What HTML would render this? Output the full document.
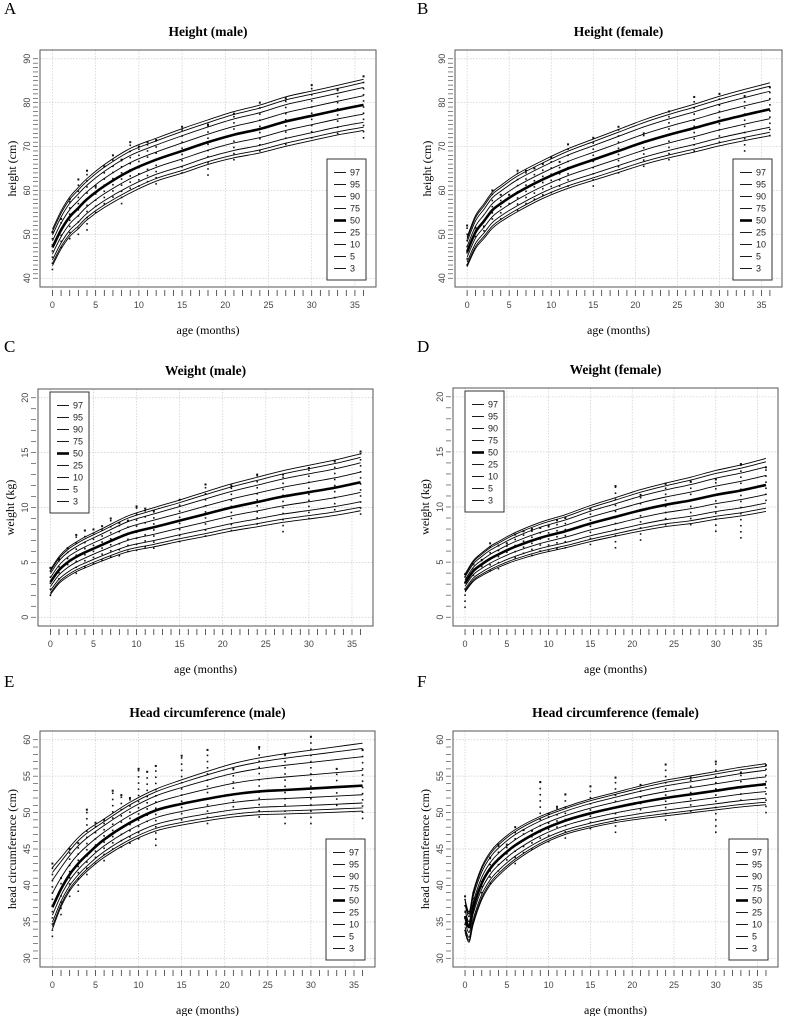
<!DOCTYPE html>
<html><head><meta charset="utf-8"><style>
html,body{margin:0;padding:0;background:#fff;}
svg{display:block;}
.tl{font-family:"Liberation Sans",sans-serif;font-size:9px;fill:#444;}
.ttl{font-family:"Liberation Serif",serif;font-size:13.5px;font-weight:bold;fill:#000;}
.lab{font-family:"Liberation Serif",serif;font-size:12px;fill:#000;}
.pl{font-family:"Liberation Serif",serif;font-size:17px;fill:#000;}
.lg{font-family:"Liberation Sans",sans-serif;font-size:9px;fill:#222;}
</style></head><body>
<svg id="fig" width="790" height="1016" viewBox="0 0 790 1016" xmlns="http://www.w3.org/2000/svg"></svg>
<script>
const zs=[1.881,1.645,1.282,0.674,0,-0.674,-1.282,-1.645,-1.881];
const pctLabels=['97','95','90','75','50','25','10','5','3'];
const xTicksLabels=[0,5,10,15,20,25,30,35];
const sAges=[0,1,2,3,4,5,6,7,8,9,10,11,12,15,18,21,24,27,30,33,36];
const cAges=[0,1,2,3,4,6,9,12,15,18,21,24,27,30,33,36];
const F_ages=[0,0.5,1,2,3,4,6,9,12,15,18,21,24,27,30,33,36];

const A_med=[47,51,54,56,58,61,64.5,67,69,71,72.7,74,75.7,77,78.3,79.5];
const A_sdUp=[2.2,2.3,2.4,2.5,2.5,2.6,2.7,2.6,2.7,2.7,2.8,2.9,3.0,3.0,3.0,3.1];
const A_sdDown=A_sdUp;
const A_low=[42,47,49,50,51,55,57,58.5,57,60.5,61,62,61.5,64,63.5,67,69,70.5,72,73,72];
const A_high=[50.5,53.5,58,62.5,64.5,61,65.5,68,67,71,70,71,71.5,74.5,75,77.5,80,81,84,83,86];

const B_med=[46,50.5,53,55.5,57,59.5,62.5,65,67,69,71,72.7,74.2,75.8,77.2,78.5];
const B_sdUp=[1.8,2.0,2.1,2.2,2.2,2.3,2.3,2.4,2.5,2.6,2.7,2.8,2.9,3.0,3.1,3.2];
const B_sdDown=B_sdUp;
const B_low=[43,49.5,50.8,53.5,53.5,57,55.5,57,58,59,59.5,61,61,61,64,65.5,67,69,71,69,72.5];
const B_high=[52,51.5,51.8,60,59,59,64.5,64.5,65,66,67.5,66.5,70.5,72,74.5,73,78,81.3,82,81.5,83.5];

const C_med=[3.2,4.3,5.0,5.5,5.9,6.6,7.6,8.2,8.8,9.4,10.0,10.5,11.0,11.4,11.8,12.3];
const C_sdUp=[0.6,0.65,0.7,0.72,0.75,0.78,0.87,0.95,1.0,1.08,1.14,1.2,1.25,1.3,1.34,1.38];
const C_sdDown=C_sdUp;
const C_low=[2,3.5,4.8,4,4.6,4.9,5.2,5.5,5.6,6,6.1,6.4,6.3,6.9,7.4,7.9,8.5,7.8,9,9.8,9.4];
const C_high=[4.5,5.3,6.3,7.5,7.9,8,8.3,9,8.6,8.8,10.1,9.9,9.7,10.7,12.1,12,13,13,13.6,14.2,15.1];

const D_med=[3.1,4.2,4.8,5.3,5.7,6.4,7.2,7.8,8.5,9.1,9.7,10.2,10.6,11.1,11.5,12.0];
const D_sdUp=[0.43,0.5,0.55,0.6,0.62,0.68,0.75,0.8,0.87,0.93,1.0,1.05,1.12,1.18,1.23,1.28];
const D_sdDown=D_sdUp;
const D_low=[0.9,3.8,4.6,4.2,4.4,5.9,5.4,5.8,5.6,6,6,6.2,6.3,6.6,6.3,7,8.4,8.4,7.8,7.2,10.6];
const D_high=[3.9,4.8,5.2,6.7,6.5,6.7,7.5,7.8,8,8.1,8.3,8.8,9,9.8,11.9,11.1,12.1,12.3,12.5,13.9,13.6];

const E_med=[37,39.5,41.5,43,44.2,46.3,48.6,50.3,51.2,51.9,52.5,52.9,53.1,53.3,53.5,53.7];
const E_sdUp=[2.9,2.3,2.0,1.9,1.8,1.5,1.5,1.55,1.75,2.0,2.25,2.45,2.65,2.8,2.95,3.1];
const E_sdDown=[1.6,1.3,1.2,1.2,1.2,1.3,1.4,1.5,1.55,1.6,1.65,1.7,1.75,1.8,1.83,1.86];
const E_low=[33,36,38.5,39.2,41.5,43,43.4,45,45.3,45.8,46.4,48.8,45.5,49,48.5,50.8,49.4,48.5,48.5,51,49.2];
const E_high=[43,41,45,45.8,50.4,48.6,49,53,52.4,52,56,55.6,56.4,57.8,58.6,56,59,58,60.4,56,58.6];

const F_med=[35.8,34.3,37,40.3,42.3,43.6,45.5,47.5,48.9,49.9,50.7,51.4,52,52.5,53,53.5,53.9];
const F_sdUp=[1.2,1.1,1.2,1.2,1.2,1.2,1.15,1.05,1.0,1.05,1.1,1.2,1.3,1.35,1.4,1.45,1.5];
const F_sdDown=F_sdUp;
const F_low=[33.8,36.5,39,40.3,42,43.5,43,44.5,45,46.5,46,48,46.5,47.8,47.3,50.4,49,50.2,47.3,51.7,50];
const F_high=[38.5,39,40.5,43.8,45.6,45.6,48,47.6,47.5,54.2,49.8,50.8,52.5,53.6,54.8,53.8,56.6,54.8,57,55.5,56.5];

const NS='http://www.w3.org/2000/svg';
const fig=document.getElementById('fig');
function mk(tag,attrs,parent){const e=document.createElementNS(NS,tag);for(const k in attrs)e.setAttribute(k,attrs[k]);(parent||fig).appendChild(e);return e;}
function txt(s,attrs,parent){const e=mk('text',attrs,parent);e.textContent=s;return e;}
function crPath(pts){let d='M'+pts[0][0].toFixed(2)+','+pts[0][1].toFixed(2);for(let i=0;i<pts.length-1;i++){const p0=pts[i-1]||pts[i],p1=pts[i],p2=pts[i+1],p3=pts[i+2]||p2;const c1=[p1[0]+(p2[0]-p0[0])/6,p1[1]+(p2[1]-p0[1])/6],c2=[p2[0]-(p3[0]-p1[0])/6,p2[1]-(p3[1]-p1[1])/6];d+='C'+c1.map(v=>v.toFixed(2))+' '+c2.map(v=>v.toFixed(2))+' '+p2[0].toFixed(2)+','+p2[1].toFixed(2);}return d;}

const panels=[
 {id:'a',letter:'A',lx:4,ly:14,box:[40,50,376,287],ylim:[40,90],ystep:10,ytick:1,title:'Height (male)',ylab:'height (cm)',ages:cAges,med:A_med,up:A_sdUp,dn:A_sdDown,low:A_low,high:A_high,dot:1.4,legend:'right'},
 {id:'b',letter:'B',lx:417,ly:14,box:[455,50,782,287],ylim:[40,90],ystep:10,ytick:1,title:'Height (female)',ylab:'height (cm)',ages:cAges,med:B_med,up:B_sdUp,dn:B_sdDown,low:B_low,high:B_high,dot:1.4,legend:'right'},
 {id:'c',letter:'C',lx:4,ly:352,box:[38,389,373,626],ylim:[0,20],ystep:5,ytick:1,title:'Weight (male)',ylab:'weight (kg)',ages:cAges,med:C_med,up:C_sdUp,dn:C_sdDown,low:C_low,high:C_high,dot:0.55,legend:'left'},
 {id:'d',letter:'D',lx:417,ly:352,box:[453,388,778,626],ylim:[0,20],ystep:5,ytick:1,title:'Weight (female)',ylab:'weight (kg)',ages:cAges,med:D_med,up:D_sdUp,dn:D_sdDown,low:D_low,high:D_high,dot:0.55,legend:'left'},
 {id:'e',letter:'E',lx:4,ly:687,box:[40,731,375,967],ylim:[30,60],ystep:5,ytick:1,title:'Head circumference (male)',ylab:'head circumference (cm)',ages:cAges,med:E_med,up:E_sdUp,dn:E_sdDown,low:E_low,high:E_high,dot:0.85,legend:'right'},
 {id:'f',letter:'F',lx:417,ly:687,box:[453,731,778,967],ylim:[30,60],ystep:5,ytick:1,title:'Head circumference (female)',ylab:'head circumference (cm)',ages:F_ages,med:F_med,up:F_sdUp,dn:F_sdDown,low:F_low,high:F_high,dot:0.85,legend:'right'}
];

panels.forEach(p=>{
 const [L,T,R,B]=p.box;
 const g=mk('g',{});
 
 
 const xd=[-1.44,37.44];
 const pad=(p.ylim[1]-p.ylim[0])*0.04;const yd=[p.ylim[0]-pad,p.ylim[1]+pad];
 const X=v=>L+(v-xd[0])/(xd[1]-xd[0])*(R-L);
 const Y=v=>B-(v-yd[0])/(yd[1]-yd[0])*(B-T);
 const pl=txt(p.letter,{x:p.lx,y:p.ly,class:'pl'},g);
 
 
 const t=txt(p.title,{x:(L+R)/2,y:T-14,class:'ttl','text-anchor':'middle'},g);
 
 
 const xl=txt('age (months)',{x:(L+R)/2,y:B+47,class:'lab','text-anchor':'middle'},g);
 
 
 const yl=txt(p.ylab,{x:0,y:0,class:'lab','text-anchor':'middle',transform:`translate(${L-24},${(T+B)/2}) rotate(-90)`},g);
 
 
 const grid=mk('g',{stroke:'#ccc','stroke-width':0.7,'stroke-dasharray':'1.5,1.5'},g);
 
 
 xTicksLabels.forEach(v=>mk('line',{x1:X(v),x2:X(v),y1:T,y2:B},grid));
 for(let v=p.ylim[0];v<=p.ylim[1]+1e-9;v+=p.ystep)mk('line',{x1:L,x2:R,y1:Y(v),y2:Y(v)},grid);
 const xa=mk('g',{stroke:'#333','stroke-width':0.8},g);
 
 
 for(let m=0;m<=36;m++)mk('line',{x1:X(m),x2:X(m),y1:B+3,y2:B+9},xa);
 xTicksLabels.forEach(v=>{const e=txt(String(v),{x:X(v),y:B+21,class:'tl','text-anchor':'middle',stroke:'none'},xa);});
 const ya=mk('g',{stroke:'#333','stroke-width':0.6},g);
 
 
 for(let v=p.ylim[0];v<=p.ylim[1]+1e-9;v+=p.ytick)mk('line',{x1:L-7,x2:L-2,y1:Y(v),y2:Y(v)},ya);
 for(let v=p.ylim[0];v<=p.ylim[1]+1e-9;v+=p.ystep){const e=txt(String(v),{x:0,y:0,class:'tl','text-anchor':'middle',stroke:'none',transform:`translate(${L-10},${Y(v)}) rotate(-90)`},ya);}
 const cp=mk('clipPath',{id:'clip'+p.id},g);mk('rect',{x:L,y:T,width:R-L,height:B-T},cp);
 const plot=mk('g',{'clip-path':`url(#clip${p.id})`},g);
 const sc=mk('g',{fill:'#111'},plot);
 
 
 sAges.forEach((a,i)=>{for(let v=p.low[i];v<=p.high[i]+1e-9;v+=p.dot){mk('rect',{x:X(a)-0.8,y:Y(v)-0.8,width:1.6,height:1.6},sc);}
  mk('rect',{x:X(a)-1,y:Y(p.high[i])-1,width:2,height:2},sc);});
 zs.forEach((z,k)=>{
  const pts=p.ages.map((a,i)=>[X(a),Y(p.med[i]+z*(z>0?p.up[i]:p.dn[i]))]);
  const e=mk('path',{d:crPath(pts),fill:'none',stroke:'#000','stroke-width':z===0?2.6:0.9},plot);
  
  
 });
 mk('rect',{x:L,y:T,width:R-L,height:B-T,fill:'none',stroke:'#555','stroke-width':1},g);
 const lw=39,lh=121;const lx=p.legend==='right'?R-49:L+12;const ly=p.legend==='right'?B-128:T+3;
 const lg=mk('g',{},g);
 
 
 mk('rect',{x:lx,y:ly,width:lw,height:lh,fill:'#fff',stroke:'#333','stroke-width':1},lg);
 pctLabels.forEach((s,k)=>{const yy=ly+13.5+k*12;
  const en=mk('g',{},lg);
  
  
  mk('line',{x1:lx+7,x2:lx+19,y1:yy,y2:yy,stroke:'#000','stroke-width':s==='50'?2.6:0.9},en);
  txt(s,{x:lx+23,y:yy+3.2,class:'lg'},en);});
});
</script>
</body></html>
